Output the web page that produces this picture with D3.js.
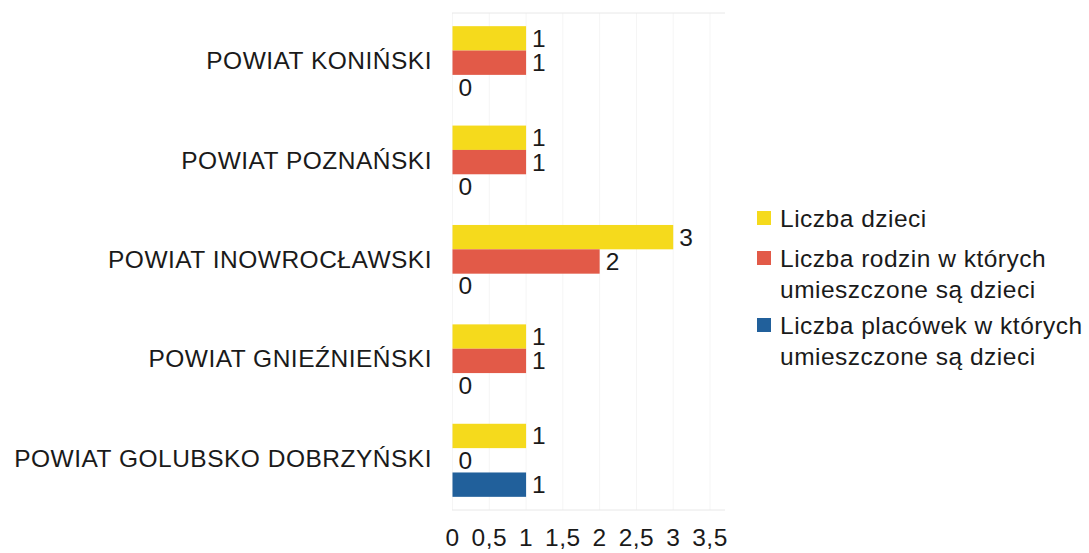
<!DOCTYPE html>
<html><head><meta charset="utf-8">
<script src="https://cdn.jsdelivr.net/npm/d3@7"></script>
<style>
body{margin:0;background:#fff;}
text{font-family:"Liberation Sans",Arial,sans-serif;fill:#1a1a1a;letter-spacing:0.5px;}
</style></head>
<body><svg id="c" width="1089" height="553"></svg>
<script>
const categories = ["POWIAT KONIŃSKI","POWIAT POZNAŃSKI","POWIAT INOWROCŁAWSKI","POWIAT GNIEŹNIEŃSKI","POWIAT GOLUBSKO DOBRZYŃSKI"];
const seriesNames = ["Liczba dzieci","Liczba rodzin w których umieszczone są dzieci","Liczba placówek w których umieszczone są dzieci"];
const legendLines = [["Liczba dzieci"],["Liczba rodzin w których","umieszczone są dzieci"],["Liczba placówek w których","umieszczone są dzieci"]];
const liczbaDzieci = [1,1,3,1,1];
const liczbaRodzin = [1,1,2,1,0];
const liczbaPlacowek = [0,0,0,0,1];
const tickValues = [0,0.5,1,1.5,2,2.5,3,3.5];
const tickLabels = ["0","0,5","1","1,5","2","2,5","3","3,5"];
const colors = ["#f5da1c","#e25a48","#21609b"];

const series = [liczbaDzieci, liczbaRodzin, liczbaPlacowek];
const svg = d3.select("#c");
const fs = 24.5;
const x = d3.scaleLinear().domain([0,3.5]).range([452.5,710]);
const y = d3.scaleBand().domain(categories).range([13,510]).paddingInner(0.265).paddingOuter(0.1325);
const ys = d3.scaleBand().domain([0,1,2]).range([0,y.bandwidth()]);

// grid
svg.append("g").selectAll("line").data(tickValues).join("line")
  .attr("x1",d=>x(d)).attr("x2",d=>x(d)).attr("y1",13).attr("y2",510)
  .attr("stroke","#f5f5f5").attr("stroke-width",1);
svg.append("line").attr("x1",452).attr("x2",725).attr("y1",13).attr("y2",13).attr("stroke","#e8e8e8");
svg.append("line").attr("x1",452).attr("x2",725).attr("y1",510).attr("y2",510).attr("stroke","#e8e8e8");

// bars
categories.forEach((c,i)=>{
  const g = svg.append("g").attr("transform",`translate(0,${y(c)})`);
  series.forEach((s,j)=>{
    g.append("rect").attr("x",x(0)).attr("y",ys(j)).attr("width",x(s[i])-x(0)).attr("height",ys.bandwidth()).attr("fill",colors[j]);
    g.append("text").attr("x",x(s[i])+6).attr("y",ys(j)+ys.bandwidth()/2).attr("dominant-baseline","central")
      .attr("font-size",fs).text(s[i]);
  });
});

// category labels
svg.append("g").selectAll("text").data(categories).join("text")
  .attr("x",432).attr("y",d=>y(d)+y.bandwidth()/2 - 2).attr("text-anchor","end").attr("dominant-baseline","central")
  .attr("font-size",fs).text(d=>d);

// x axis labels
svg.append("g").selectAll("text").data(tickValues).join("text")
  .attr("x",d=>x(d)).attr("y",546).attr("text-anchor","middle")
  .attr("font-size",fs).text((d,i)=>tickLabels[i]);

// legend
const ly = [218, 258, 325];
legendLines.forEach((lines,i)=>{
  svg.append("rect").attr("x",757).attr("y",ly[i]-7).attr("width",14).attr("height",14).attr("fill",colors[i]);
  lines.forEach((t,k)=>{
    svg.append("text").attr("x",780).attr("y",ly[i]+k*31).attr("dominant-baseline","central").attr("font-size",fs).text(t);
  });
});
</script></body></html>
